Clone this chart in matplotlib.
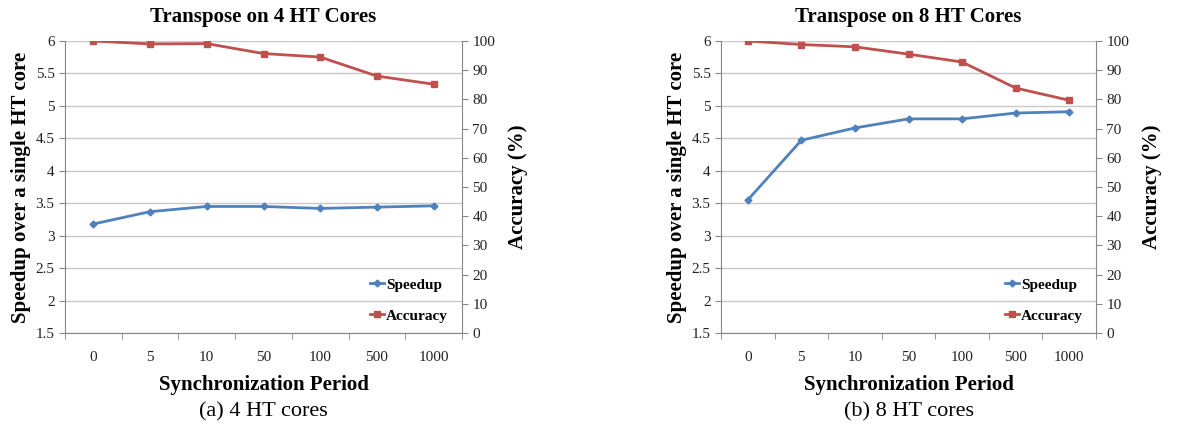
import matplotlib
matplotlib.use("Agg")
import matplotlib.pyplot as plt
from matplotlib.ticker import FixedLocator

plt.rcParams['font.family'] = ['Liberation Serif', 'DejaVu Serif']

periods = ["0", "5", "10", "50", "100", "500", "1000"]
speedup_4 = [3.18, 3.37, 3.45, 3.45, 3.42, 3.44, 3.46]
accuracy_4 = [100, 99.0, 99.1, 95.7, 94.5, 88.0, 85.2]
speedup_8 = [3.55, 4.47, 4.66, 4.80, 4.80, 4.89, 4.91]
accuracy_8 = [100, 98.8, 98.0, 95.5, 92.8, 83.9, 79.7]
left_ticks = [1.5, 2, 2.5, 3, 3.5, 4, 4.5, 5, 5.5, 6]
left_ticklabels = ["1.5", "2", "2.5", "3", "3.5", "4", "4.5", "5", "5.5", "6"]
right_ticks = [0, 10, 20, 30, 40, 50, 60, 70, 80, 90, 100]

titles = ["Transpose on 4 HT Cores", "Transpose on 8 HT Cores"]
captions = ["(a) 4 HT cores", "(b) 8 HT cores"]

BLUE = "#4F81BD"
RED = "#C0504D"
GRID = "#C8C8C8"
SPINE = "#868686"

fig = plt.figure(figsize=(11.93, 4.33), dpi=100)
W, H = 1193, 433
boxes = [(65, 462), (721, 1096)]
top_px, bot_px = 41, 333

def draw(ax_box, sp, acc, title, caption):
    l, r = ax_box
    ax = fig.add_axes([l / W, 1 - bot_px / H, (r - l) / W, (bot_px - top_px) / H])
    x = list(range(len(periods)))
    ax.set_xlim(-0.5, len(periods) - 0.5)
    ax.set_ylim(1.5, 6)
    ax.set_yticks(left_ticks)
    ax.set_yticklabels(left_ticklabels)
    ax.grid(axis='y', color=GRID, linewidth=1.0)
    ax.set_axisbelow(True)
    ax.set_xticks(x)
    ax.set_xticklabels(periods)
    ax.xaxis.set_minor_locator(FixedLocator([i - 0.5 for i in range(len(periods) + 1)]))
    ax.tick_params(axis='x', which='major', length=0, pad=13, labelsize=11, colors='#222222')
    ax.tick_params(axis='x', which='minor', length=4, color=SPINE, direction='out')
    ax.tick_params(axis='y', length=4, color=SPINE, direction='out', labelsize=11, colors='#222222')
    for s in ['top', 'right']:
        ax.spines[s].set_visible(False)
    for s in ['left', 'bottom']:
        ax.spines[s].set_color(SPINE)
    l1, = ax.plot(x, sp, color=BLUE, marker='D', markersize=3.5, linewidth=2, label='Speedup')
    ax.set_ylabel("Speedup over a single HT core", fontsize=15, fontweight='bold', labelpad=3)
    ax.set_xlabel("Synchronization Period", fontsize=15, fontweight='bold', labelpad=8)
    ax.set_title(title, fontsize=15, fontweight='bold', pad=14)

    ax2 = ax.twinx()
    ax2.set_ylim(0, 100)
    ax2.set_yticks(right_ticks)
    ax2.tick_params(axis='y', length=4, color=SPINE, direction='out', labelsize=11, colors='#222222')
    for s in ['top', 'left', 'bottom']:
        ax2.spines[s].set_visible(False)
    ax2.spines['right'].set_color(SPINE)
    l2, = ax2.plot(x, acc, color=RED, marker='s', markersize=5, linewidth=2, label='Accuracy')
    ax2.set_ylabel("Accuracy (%)", fontsize=15, fontweight='bold', labelpad=9)

    ax2.legend(handles=[l1, l2], loc='lower right', bbox_to_anchor=(0.965, 0.035),
               frameon=False, handlelength=0.9, handletextpad=0.15,
               labelspacing=1.15, borderpad=0, borderaxespad=0,
               prop={'weight': 'bold', 'size': 11})
    cx = (l + r) / 2 / W
    fig.text(cx, 1 - 412 / H, caption, ha='center', va='center', fontsize=16)

for box, sp, acc, t, c in zip(boxes, [speedup_4, speedup_8], [accuracy_4, accuracy_8], titles, captions):
    draw(box, sp, acc, t, c)

fig.savefig("out.png", dpi=100)
